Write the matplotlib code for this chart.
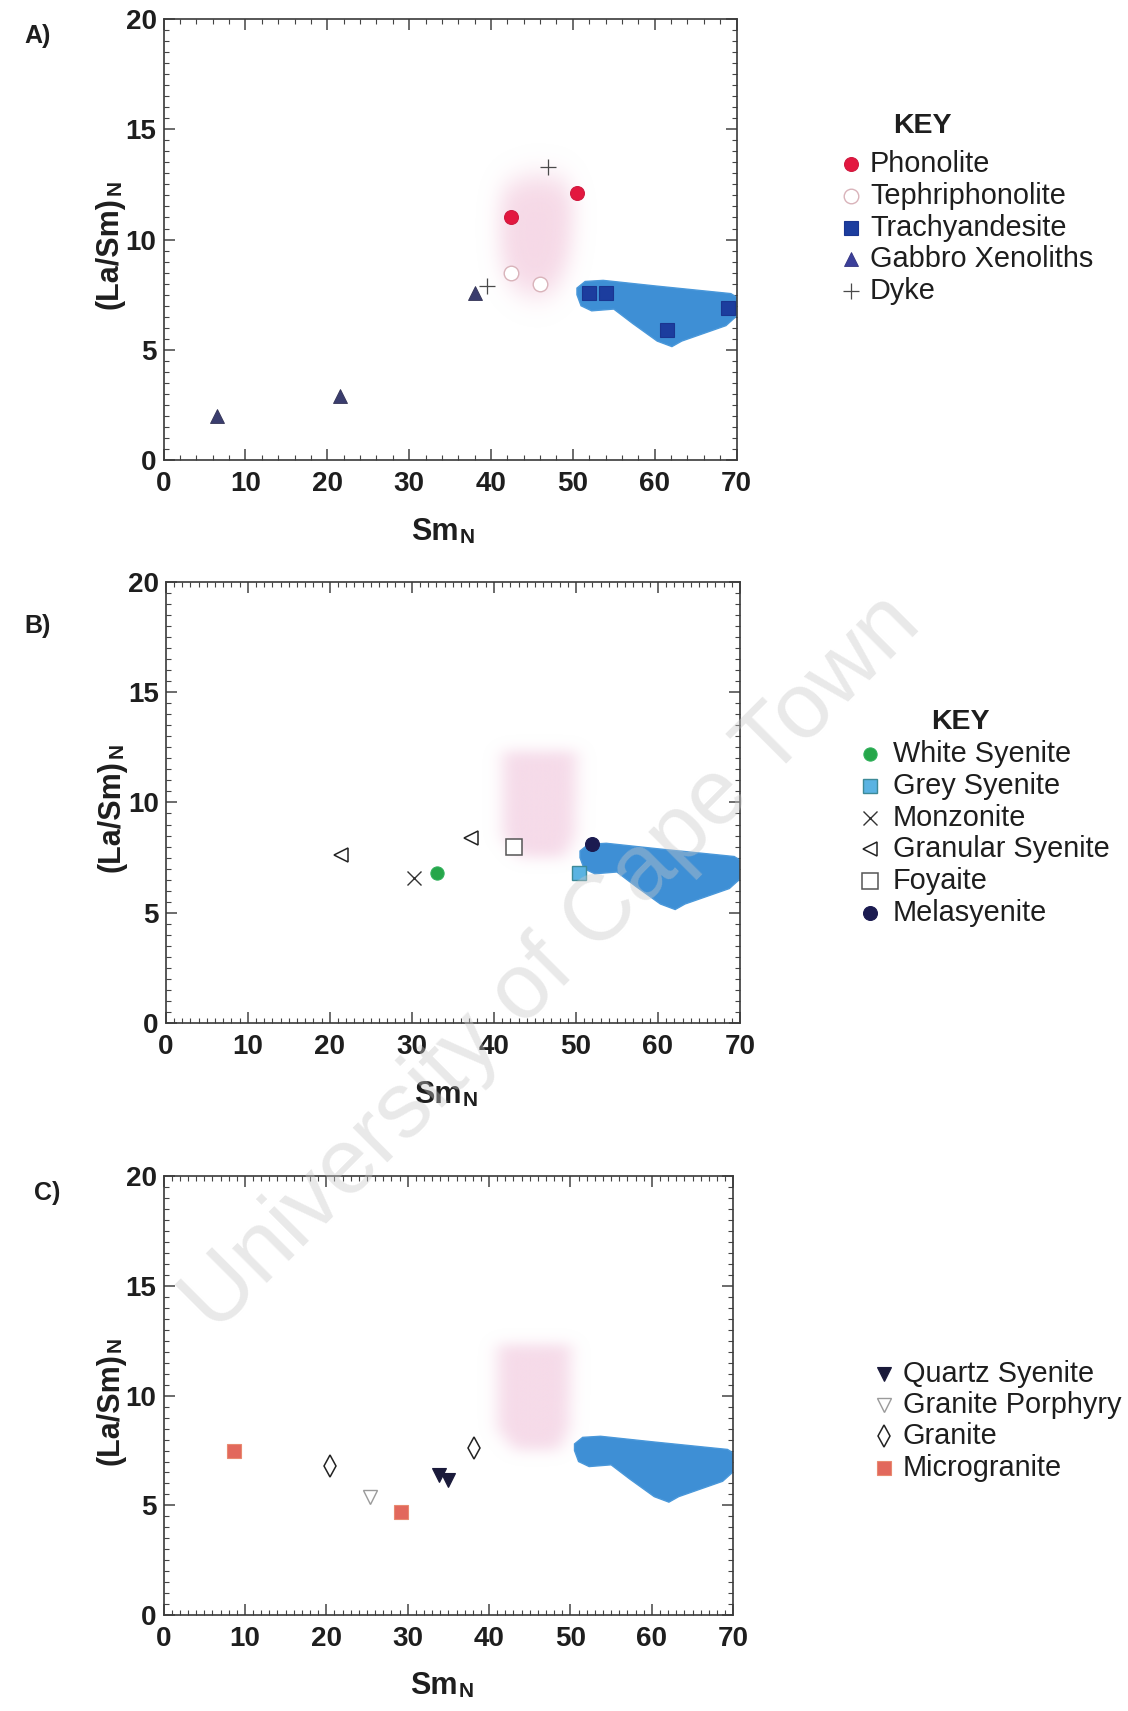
import numpy as np
import matplotlib
matplotlib.use("Agg")
import matplotlib.pyplot as plt
from matplotlib.path import Path
from matplotlib.patches import Polygon
from matplotlib.lines import Line2D
from matplotlib.ticker import MultipleLocator

plt.rcParams['font.family'] = ['Liberation Sans', 'DejaVu Sans']

# ---------------- data ----------------
# Panel A: volcanic rocks
phonolite_x = [42.5, 50.5]
phonolite_y = [11.0, 12.1]
tephri_x = [42.5, 46.0]
tephri_y = [8.5, 8.0]
trachy_x = [52.0, 54.0, 61.5, 69.0]
trachy_y = [7.6, 7.6, 5.9, 6.9]
gabbro_x = [6.5, 21.5, 38.0]
gabbro_y = [2.0, 2.9, 7.6]
dyke_x = [47.0, 39.5]
dyke_y = [13.3, 7.9]

# Panel B: syenites
white_x = [33.1]
white_y = [6.8]
grey_x = [50.4]
grey_y = [6.8]
monz_x = [30.3]
monz_y = [6.6]
granular_x = [21.4, 37.2]
granular_y = [7.6, 8.4]
foyaite_x = [42.4]
foyaite_y = [8.0]
mela_x = [52.0]
mela_y = [8.1]

# Panel C: granitoids
qsy_x = [33.9, 34.9]
qsy_y = [6.4, 6.15]
gporph_x = [25.4]
gporph_y = [5.4]
granite_x = [20.5, 38.1]
granite_y = [6.8, 7.6]
micro_x = [8.6, 29.2]
micro_y = [7.5, 4.7]

# Compositional fields (SmN, (La/Sm)N vertices)
trachy_field_x = [50.5, 51.5, 53.7, 60.0, 69.3, 70.6, 70.5, 68.7, 63.3, 62.1, 60.3,
                  57.3, 55.0, 52.3, 51.0, 50.5]
trachy_field_y = [7.8, 8.1, 8.15, 7.9, 7.55, 7.25, 6.7, 6.1, 5.4, 5.15, 5.4,
                  6.2, 6.85, 6.77, 7.0, 7.5]
phon_field_a_x = [41.5, 45.0, 49.0, 50.0, 49.5, 48.0, 46.0, 43.5, 41.8, 41.0, 41.0]
phon_field_a_y = [12.4, 12.9, 12.7, 11.5, 9.2, 7.8, 7.4, 7.6, 8.2, 9.5, 11.5]
phon_field_x = [41.0, 50.0, 49.8, 48.5, 43.0, 41.0]
phon_field_y = [12.3, 12.3, 8.5, 7.5, 7.5, 8.5]

xticks = [0, 10, 20, 30, 40, 50, 60, 70]
yticks = [0, 5, 10, 15, 20]

TICK_FONT = dict(family=['Liberation Sans', 'DejaVu Sans'], weight='bold', size=20)
TXT = '#1e1e1e'

fig = plt.figure(figsize=(11.28, 17.11), dpi=100)
fig.patch.set_facecolor('white')


def blurred_field(ax, xs, ys, color, alpha, sigma, ysq=0.3):
    """Soft-edged filled region drawn as an RGBA image."""
    nx, ny = 700, 400
    gx = np.linspace(0, 70, nx)
    gy = np.linspace(0, 20, ny)
    X, Y = np.meshgrid(gx, gy)
    path = Path(np.column_stack([xs, ys]))
    mask = path.contains_points(np.column_stack([X.ravel(), Y.ravel()])).reshape(ny, nx)
    mask = mask.astype(float)
    # separable gaussian blur (sigma in data units)
    sx = sigma / (70 / nx)
    sy = sigma / (20 / ny) * ysq
    for axis, s in ((1, sx), (0, sy)):
        r = int(3 * s) + 1
        k = np.exp(-0.5 * (np.arange(-r, r + 1) / s) ** 2)
        k /= k.sum()
        mask = np.apply_along_axis(lambda v: np.convolve(v, k, mode='same'), axis, mask)
    rgba = np.zeros((ny, nx, 4))
    rgba[..., :3] = matplotlib.colors.to_rgb(color)
    rgba[..., 3] = np.clip(mask, 0, 1) * alpha
    ax.imshow(rgba, extent=(0, 70, 0, 20), origin='lower', aspect='auto',
              interpolation='bilinear', zorder=1)


def style_axes(ax, xminor):
    ax.set_xlim(0, 70)
    ax.set_ylim(0, 20)
    ax.set_xticks(xticks)
    ax.set_yticks(yticks)
    ax.xaxis.set_minor_locator(MultipleLocator(xminor))
    ax.yaxis.set_minor_locator(MultipleLocator(0.5))
    ax.tick_params(which='both', direction='in', top=True, right=True, color='#444444')
    ax.tick_params(which='major', length=8, width=1.1)
    ax.tick_params(which='minor', length=3.5, width=0.8)
    ax.tick_params(axis='x', pad=8)
    ax.tick_params(axis='y', pad=5)
    for lab in ax.get_xticklabels() + ax.get_yticklabels():
        lab.set_fontproperties(matplotlib.font_manager.FontProperties(**TICK_FONT))
        lab.set_color(TXT)
    for sp in ax.spines.values():
        sp.set_color('#3a3a3a')
        sp.set_linewidth(1.2)
    # axis titles with a small "N" on the baseline
    sm = ax.text(0.432, -0.18, 'Sm', transform=ax.transAxes, fontsize=22,
                 fontweight='bold', ha='left', va='baseline', color=TXT)
    ax.annotate('N', xy=(1, 0), xycoords=sm, xytext=(1, 0), textcoords='offset points',
                fontsize=15, fontweight='bold', ha='left', va='bottom', color=TXT)
    la = ax.text(-0.094, 0.47, '(La/Sm)', transform=ax.transAxes, fontsize=22,
                 fontweight='bold', rotation=90, ha='center', va='center', color=TXT)
    ax.annotate('N', xy=(1, 1), xycoords=la, xytext=(0, 1), textcoords='offset points',
                fontsize=15, fontweight='bold', rotation=90, ha='right', va='bottom',
                color=TXT)


def trachy_field(ax):
    ax.add_patch(Polygon(np.column_stack([trachy_field_x, trachy_field_y]), closed=True,
                         facecolor='#3e8fd5', edgecolor='#4a98da', lw=1.0, zorder=2,
                         clip_on=True))


def legend_rows(x_marker, x_text, y_top, dy, rows, title=None, title_x=None, title_y=None):
    if title:
        fig.text(title_x, title_y, title, fontsize=20.5, fontweight='bold', ha='center',
                 va='center', color=TXT)
    for i, (label, kw) in enumerate(rows):
        y = y_top - i * dy
        fig.add_artist(Line2D([x_marker], [y], transform=fig.transFigure, linestyle='none',
                              **kw))
        fig.text(x_text, y, label, fontsize=20.8, ha='left', va='center', color=TXT)


# marker styles
st_phon = dict(marker='o', ms=10, mfc='#e3173f', mec='#d01a40', mew=0.8)
st_teph = dict(marker='o', ms=10.5, mfc='white', mec='#d9b3ba', mew=1.0)
st_trachy = dict(marker='s', ms=9.5, mfc='#1c3d9e', mec='#1a3590', mew=0.8)
st_gab = dict(marker='^', ms=9.5, mfc='#3a3d6e', mec='#333355', mew=0.6)
st_gab_key = dict(marker='^', ms=10, mfc='#3b3f9a', mec='#333380', mew=0.6)
st_dyke = dict(marker='+', ms=11, mec='#4a4a4a', mew=0.9)

st_white = dict(marker='o', ms=9.5, mfc='#26a64a', mec='#2fb05a', mew=0.8)
st_grey = dict(marker='s', ms=9.5, mfc='#5ab3e2', mec='#3d8a98', mew=1.0)
st_monz = dict(marker='x', ms=10, mec='#333333', mew=1.0)
st_gran = dict(marker='<', ms=10, mfc='white', mec='#222222', mew=1.1)
st_foy = dict(marker='s', ms=11, mfc='white', mec='#555555', mew=1.1)
st_mela = dict(marker='o', ms=10, mfc='#1b1b50', mec='#1b1b50', mew=0.8)

st_qsy = dict(marker='v', ms=10, mfc='#1a1a3a', mec='#1a1a3a', mew=0.8)
st_gpor = dict(marker='v', ms=10.5, mfc='white', mec='#9a9a9a', mew=1.0)
st_granite = dict(marker='d', ms=11, mfc='white', mec='#222222', mew=1.1)
st_micro = dict(marker='s', ms=10, mfc='#e2685c', mec='#e88a70', mew=0.8)

# ---------------- Panel A ----------------
axA = fig.add_axes([0.145, 0.731, 0.508, 0.258])
blurred_field(axA, phon_field_a_x, phon_field_a_y, '#f5d3e3', 0.85, 1.2, ysq=0.5)
trachy_field(axA)
axA.plot(phonolite_x, phonolite_y, linestyle='none', zorder=5, **st_phon)
axA.plot(tephri_x, tephri_y, linestyle='none', zorder=5, **st_teph)
axA.plot(trachy_x, trachy_y, linestyle='none', zorder=5, **st_trachy)
axA.plot(gabbro_x, gabbro_y, linestyle='none', zorder=5, **st_gab)
axA.plot(dyke_x, dyke_y, linestyle='none', zorder=5, **st_dyke)
style_axes(axA, 2)

# ---------------- Panel B ----------------
axB = fig.add_axes([0.147, 0.402, 0.509, 0.258])
blurred_field(axB, phon_field_x, phon_field_y, '#f3cfe2', 0.75, 1.0)
trachy_field(axB)
axB.plot(white_x, white_y, linestyle='none', zorder=5, **st_white)
axB.plot(grey_x, grey_y, linestyle='none', zorder=5, **st_grey)
axB.plot(monz_x, monz_y, linestyle='none', zorder=5, **st_monz)
axB.plot(granular_x, granular_y, linestyle='none', zorder=5, **st_gran)
axB.plot(foyaite_x, foyaite_y, linestyle='none', zorder=5, **st_foy)
axB.plot(mela_x, mela_y, linestyle='none', zorder=5, **st_mela)
style_axes(axB, 1)

# ---------------- Panel C ----------------
axC = fig.add_axes([0.145, 0.056, 0.505, 0.2566])
blurred_field(axC, phon_field_x, phon_field_y, '#f3cfe2', 0.75, 1.0)
trachy_field(axC)
axC.plot(qsy_x, qsy_y, linestyle='none', zorder=5, **st_qsy)
axC.plot(gporph_x, gporph_y, linestyle='none', zorder=5, **st_gpor)
axC.plot(granite_x, granite_y, linestyle='none', zorder=5, **st_granite)
axC.plot(micro_x, micro_y, linestyle='none', zorder=5, **st_micro)
style_axes(axC, 1)

# panel letters
for lab, (x, y) in (('A)', (0.022, 0.979)), ('B)', (0.022, 0.634)), ('C)', (0.030, 0.303))):
    fig.text(x, y, lab, fontsize=18, fontweight='bold', ha='left', va='center', color=TXT)

# ---------------- keys ----------------
H = 1711.0
W = 1128.0
legend_rows(851 / W, 870 / W, 1 - 164 / H, 31.8 / H,
            [('Phonolite', st_phon), ('Tephriphonolite', st_teph),
             ('Trachyandesite', st_trachy), ('Gabbro Xenoliths', st_gab_key),
             ('Dyke', st_dyke)],
            title='KEY', title_x=922 / W, title_y=1 - 126 / H)
legend_rows(870 / W, 893 / W, 1 - 754 / H, 31.8 / H,
            [('White Syenite', st_white), ('Grey Syenite', st_grey),
             ('Monzonite', st_monz), ('Granular Syenite', st_gran),
             ('Foyaite', st_foy), ('Melasyenite', st_mela)],
            title='KEY', title_x=960 / W, title_y=1 - 722 / H)
legend_rows(884 / W, 903 / W, 1 - 1374 / H, 31.2 / H,
            [('Quartz Syenite', st_qsy), ('Granite Porphyry', st_gpor),
             ('Granite', st_granite), ('Microgranite', st_micro)])

# repository watermark
fig.text(0.49, 0.437, 'University of Cape Town', fontsize=67, color='#c8c8c8',
         alpha=0.4, rotation=45, ha='center', va='center', rotation_mode='anchor',
         zorder=20)

fig.savefig('out.png', dpi=100, facecolor='white')
